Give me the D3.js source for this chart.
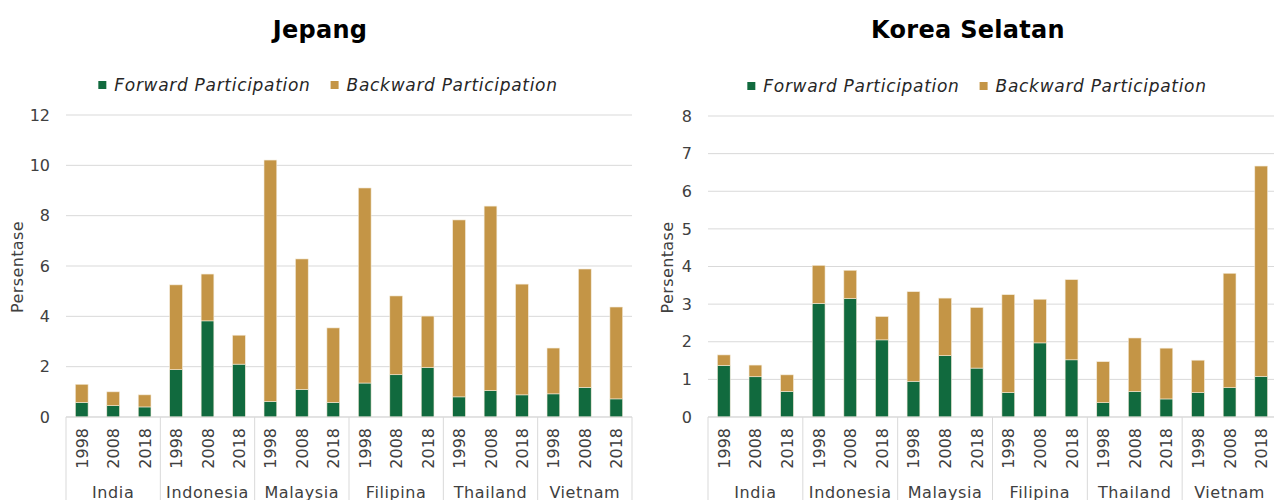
<!DOCTYPE html>
<html>
<head>
<meta charset="utf-8">
<script src="https://cdn.jsdelivr.net/npm/d3@7"></script>
<style>
  body { margin: 0; background: #fff; }
  svg { display: block; font-family: "DejaVu Sans", sans-serif; }
</style>
</head>
<body>
<div id="chart"></div>
<script>
// categories
var countries = ["India", "Indonesia", "Malaysia", "Filipina", "Thailand", "Vietnam"];
var years = ["1998", "2008", "2018"];
var seriesNames = ["Forward Participation", "Backward Participation"];

// Jepang (percent)
var jepangForward  = [0.58, 0.45, 0.40, 1.88, 3.82, 2.10, 0.62, 1.10, 0.58, 1.35, 1.68, 1.97, 0.80, 1.05, 0.88, 0.92, 1.18, 0.72];
var jepangBackward = [0.72, 0.55, 0.48, 3.37, 1.86, 1.15, 9.59, 5.18, 2.96, 7.75, 3.13, 2.04, 7.03, 7.33, 4.40, 1.82, 4.70, 3.65];
var jepangTicks = [0, 2, 4, 6, 8, 10, 12];

// Korea Selatan (percent)
var koreaForward  = [1.37, 1.07, 0.68, 3.02, 3.15, 2.05, 0.95, 1.63, 1.30, 0.65, 1.97, 1.52, 0.38, 0.68, 0.48, 0.65, 0.78, 1.08];
var koreaBackward = [0.28, 0.31, 0.44, 1.01, 0.75, 0.62, 2.38, 1.53, 1.61, 2.60, 1.16, 2.13, 1.09, 1.42, 1.35, 0.86, 3.04, 5.59];
var koreaTicks = [0, 1, 2, 3, 4, 5, 6, 7, 8];

var green = "#116a3e", gold = "#c49546";
var color = d3.scaleOrdinal().domain(seriesNames).range([green, gold]);

var svg = d3.select("#chart").append("svg")
    .attr("width", 1274)
    .attr("height", 500);

function drawChart(cfg) {
    // one row per bar: country / year / forward / backward
    var rows = [];
    countries.forEach(function (c, i) {
        years.forEach(function (y, j) {
            var k = i * years.length + j;
            rows.push({ key: c + "|" + y, country: c, year: y,
                "Forward Participation": cfg.forward[k],
                "Backward Participation": cfg.backward[k] });
        });
    });

    var stacked = d3.stack().keys(seriesNames)(rows);

    var g = svg.append("g");

    var xGroup = d3.scaleBand()
        .domain(countries)
        .range([cfg.left, cfg.right]);

    var x = d3.scaleBand()
        .domain(rows.map(function (d) { return d.key; }))
        .range([cfg.left, cfg.right])
        .paddingInner(0.595)
        .paddingOuter(0.2975);

    var y = d3.scaleLinear()
        .domain([0, d3.max(cfg.ticks)])
        .range([cfg.bottom, cfg.top]);

    // gridlines
    g.append("g")
        .selectAll("line")
        .data(cfg.ticks)
        .enter()
        .append("line")
        .attr("x1", cfg.left)
        .attr("x2", cfg.right)
        .attr("y1", function (d) { return y(d); })
        .attr("y2", function (d) { return y(d); })
        .attr("stroke", "#d9d9d9")
        .attr("stroke-width", 1);

    // y axis labels
    var yAxis = g.append("g")
        .attr("transform", "translate(" + cfg.left + ",0)")
        .call(d3.axisLeft(y).tickValues(cfg.ticks).tickSize(0).tickPadding(16));
    yAxis.select(".domain").remove();
    yAxis.selectAll("text")
        .style("font-family", "DejaVu Sans, sans-serif")
        .style("font-size", "16px")
        .attr("fill", "#404040");

    // y axis title
    g.append("text")
        .attr("transform", "translate(" + cfg.titleX + "," + ((cfg.top + cfg.bottom) / 2 + 1) + ") rotate(-90)")
        .attr("text-anchor", "middle")
        .style("font-size", "16px")
        .style("letter-spacing", "0.4px")
        .attr("fill", "#404040")
        .text("Persentase");

    // bars
    g.append("g")
        .selectAll("g")
        .data(stacked)
        .enter()
        .append("g")
        .attr("fill", function (d) { return color(d.key); })
        .selectAll("rect")
        .data(function (d) { return d; })
        .enter()
        .append("rect")
        .attr("x", function (d) { return x(d.data.key); })
        .attr("y", function (d) { return y(d[1]); })
        .attr("width", x.bandwidth())
        .attr("height", function (d) { return y(d[0]) - y(d[1]); })
        .attr("stroke", "#f3ead8")
        .attr("stroke-width", 0.6);

    // x axis baseline and group separators
    g.append("line")
        .attr("x1", cfg.left).attr("x2", cfg.right)
        .attr("y1", cfg.bottom).attr("y2", cfg.bottom)
        .attr("stroke", "#d9d9d9");

    var edges = countries.map(function (c) { return xGroup(c); }).concat([cfg.right]);
    g.append("g")
        .selectAll("line")
        .data(edges)
        .enter()
        .append("line")
        .attr("x1", function (d) { return d; })
        .attr("x2", function (d) { return d; })
        .attr("y1", cfg.bottom)
        .attr("y2", 500)
        .attr("stroke", "#d9d9d9");

    // year labels (rotated)
    g.append("g")
        .selectAll("text")
        .data(rows)
        .enter()
        .append("text")
        .attr("transform", function (d) {
            return "translate(" + (x(d.key) + x.bandwidth() / 2 + 6) + "," + (cfg.bottom + 11) + ") rotate(-90)";
        })
        .attr("text-anchor", "end")
        .style("font-size", "16px")
        .attr("fill", "#404040")
        .text(function (d) { return d.year; });

    // country labels (cut by the bottom edge, as in the source)
    g.append("g")
        .selectAll("text")
        .data(countries)
        .enter()
        .append("text")
        .attr("x", function (d) { return xGroup(d) + xGroup.bandwidth() / 2; })
        .attr("y", 498)
        .attr("text-anchor", "middle")
        .style("font-size", "16px")
        .style("letter-spacing", "0.6px")
        .attr("fill", "#404040")
        .text(function (d) { return d; });

    // title
    g.append("text")
        .attr("x", cfg.titleCenter)
        .attr("y", 38)
        .attr("text-anchor", "middle")
        .style("font-size", "24px")
        .style("font-weight", "bold")
        .style("letter-spacing", "0.3px")
        .attr("fill", "#000")
        .text(cfg.title);

    // legend, centred at cfg.legendCenter
    var legend = g.append("g");
    var items = legend.selectAll("g")
        .data(seriesNames)
        .enter()
        .append("g");
    items.append("rect")
        .attr("width", 8).attr("height", 8)
        .attr("y", cfg.legendY - 4)
        .attr("fill", function (d) { return color(d); });
    items.append("text")
        .attr("x", 16)
        .attr("y", cfg.legendY + 6)
        .style("font-size", "17px")
        .style("font-style", "italic")
        .style("letter-spacing", "0.7px")
        .attr("fill", "#262626")
        .text(function (d) { return d; });

    var offset = 0, widths = [];
    items.each(function () { widths.push(this.getBBox().width); });
    var gap = 20;
    var total = d3.sum(widths) + gap;
    offset = cfg.legendCenter - total / 2;
    items.attr("transform", function (d, i) {
        var tx = offset;
        offset += widths[i] + gap;
        return "translate(" + tx + ",0)";
    });
}

drawChart({
    title: "Jepang", titleCenter: 320,
    forward: jepangForward, backward: jepangBackward, ticks: jepangTicks,
    left: 66, right: 632, top: 115, bottom: 417,
    titleX: 23, legendCenter: 328, legendY: 85
});

drawChart({
    title: "Korea Selatan", titleCenter: 968,
    forward: koreaForward, backward: koreaBackward, ticks: koreaTicks,
    left: 708, right: 1277, top: 116, bottom: 417,
    titleX: 673, legendCenter: 977, legendY: 86
});
</script>
</body>
</html>
